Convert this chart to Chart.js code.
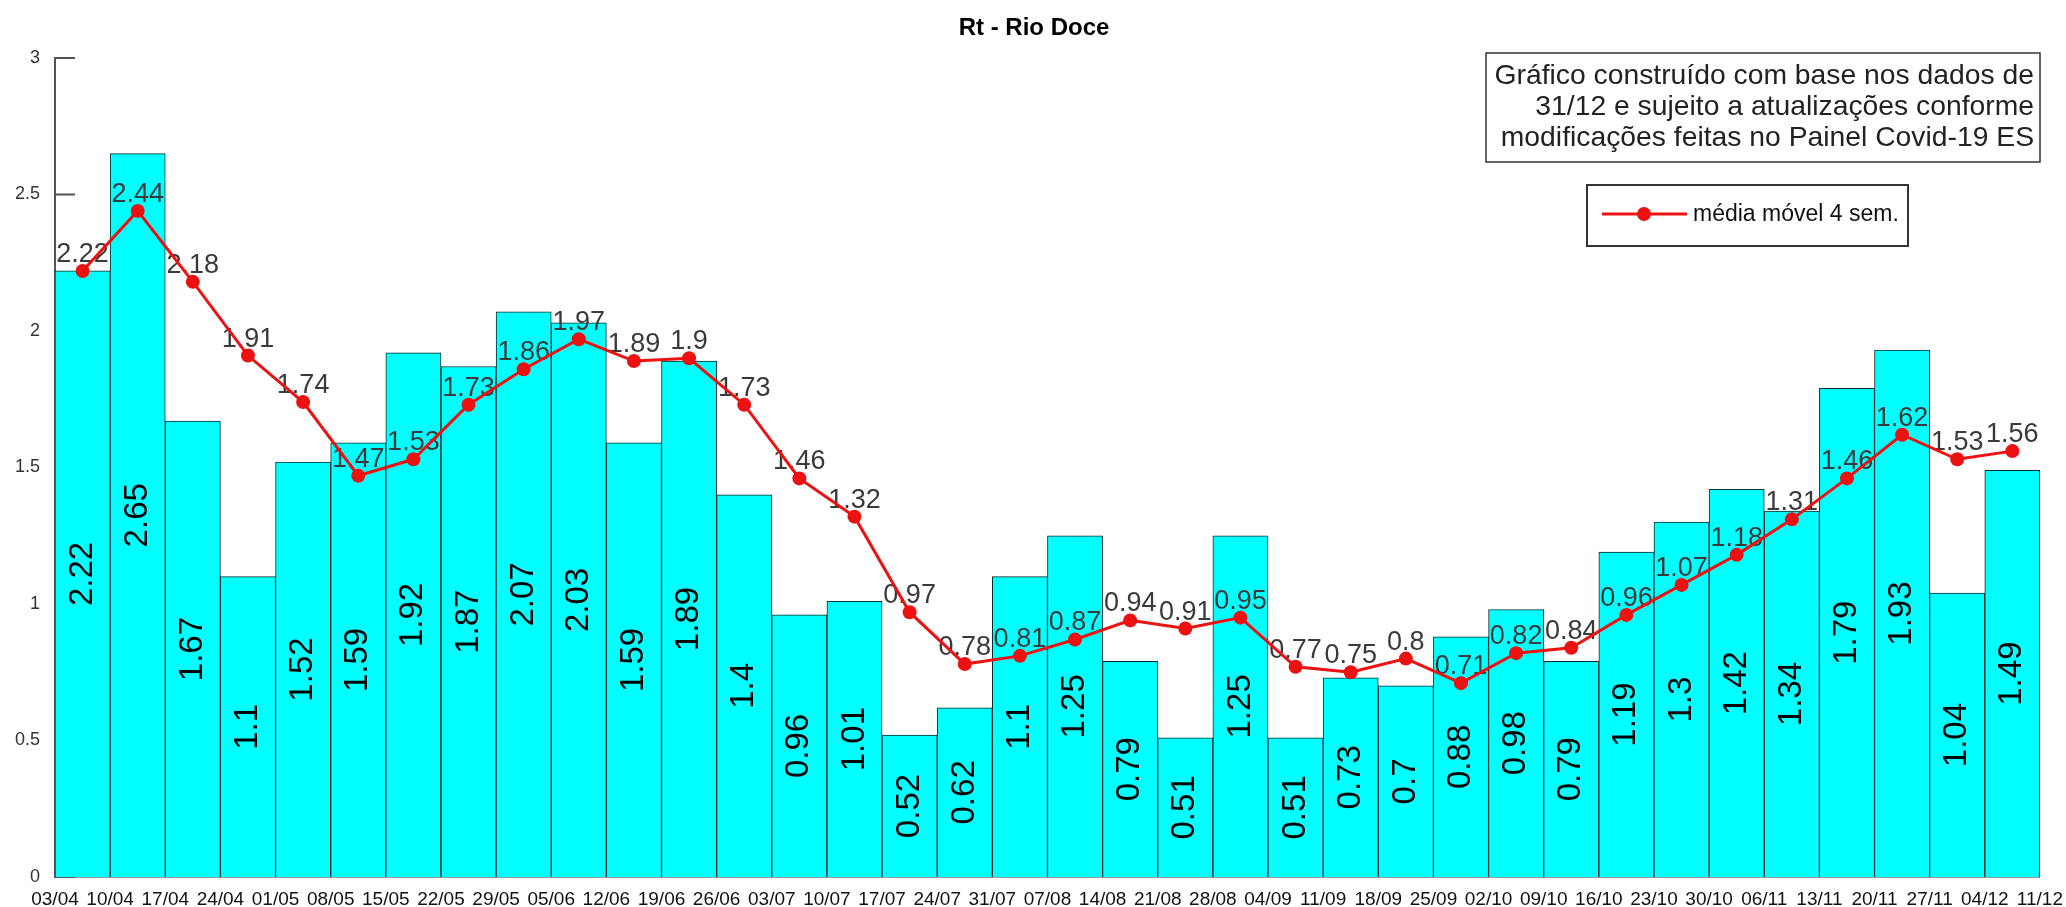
<!DOCTYPE html>
<html>
<head>
<meta charset="utf-8">
<script src="https://cdn.jsdelivr.net/npm/chart.js@4"></script>
<style>
  body { margin: 0; background: #fff; }
  #wrap { width: 2066px; height: 907px; }
</style>
</head>
<body>
<div id="wrap"><canvas id="rtChart" width="2066" height="907"></canvas></div>
<script>
// semanas (37 marcas, nas bordas das barras)
const semanas = ['03/04', '10/04', '17/04', '24/04', '01/05', '08/05', '15/05', '22/05', '29/05',
  '05/06', '12/06', '19/06', '26/06', '03/07', '10/07', '17/07', '24/07', '31/07', '07/08',
  '14/08', '21/08', '28/08', '04/09', '11/09', '18/09', '25/09', '02/10', '09/10', '16/10',
  '23/10', '30/10', '06/11', '13/11', '20/11', '27/11', '04/12', '11/12'];

const rtSemanal = [2.22, 2.65, 1.67, 1.1, 1.52, 1.59, 1.92, 1.87, 2.07, 2.03, 1.59, 1.89,
  1.4, 0.96, 1.01, 0.52, 0.62, 1.1, 1.25, 0.79, 0.51, 1.25, 0.51, 0.73, 0.7, 0.88, 0.98,
  0.79, 1.19, 1.3, 1.42, 1.34, 1.79, 1.93, 1.04, 1.49];

const mediaMovel = [2.22, 2.44, 2.18, 1.91, 1.74, 1.47, 1.53, 1.73, 1.86, 1.97, 1.89, 1.9,
  1.73, 1.46, 1.32, 0.97, 0.78, 0.81, 0.87, 0.94, 0.91, 0.95, 0.77, 0.75, 0.8, 0.71, 0.82,
  0.84, 0.96, 1.07, 1.18, 1.31, 1.46, 1.62, 1.53, 1.56];

const yMin = 0;
const yMax = 3;
const yPasso = 0.5;

const titulo = 'Rt - Rio Doce';
const notaLinhas = [
  'Gráfico construído com base nos dados de',
  '31/12 e sujeito a atualizações conforme',
  'modificações feitas no Painel Covid-19 ES'
];
const legendaTexto = 'média móvel 4 sem.';

const vermelho = '#ec1212';
const fonteEstreita = "'Liberation Sans Narrow', Arial";

const pluginTitulo = {
  id: 'titulo',
  afterDraw(chart) {
    const ctx = chart.ctx;
    ctx.save();
    ctx.font = 'bold 24px Arial';
    ctx.fillStyle = '#000';
    ctx.textAlign = 'center';
    ctx.textBaseline = 'middle';
    ctx.fillText(titulo, 1034, 28);
    ctx.restore();
  }
};

const pluginTicksInternos = {
  id: 'ticksInternos',
  beforeDatasetsDraw(chart) {
    const ctx = chart.ctx;
    const y = chart.scales.y;
    const left = chart.chartArea.left;
    ctx.save();
    ctx.strokeStyle = '#555';
    ctx.lineWidth = 2;
    y.ticks.forEach(t => {
      const py = y.getPixelForValue(t.value);
      ctx.beginPath();
      ctx.moveTo(left, py);
      ctx.lineTo(left + 20, py);
      ctx.stroke();
    });
    ctx.restore();
  }
};

const pluginRotulos = {
  id: 'rotulos',
  afterDatasetDraw(chart, args) {
    if (args.index !== 0) return;
    const ctx = chart.ctx;
    // valores das barras, na vertical
    const barras = chart.getDatasetMeta(0).data;
    ctx.save();
    ctx.font = '33px Arial';
    ctx.fillStyle = '#000';
    ctx.textAlign = 'center';
    ctx.textBaseline = 'middle';
    barras.forEach((b, i) => {
      const meio = (b.y + b.base) / 2;
      ctx.save();
      ctx.translate(b.x, meio);
      ctx.rotate(-Math.PI / 2);
      ctx.fillText(String(rtSemanal[i]), 0, 0);
      ctx.restore();
    });
    // valores da media movel (posicao dos pontos da linha)
    const pontos = chart.getDatasetMeta(1).data;
    ctx.font = '27px Arial';
    ctx.fillStyle = '#3a3a3a';
    ctx.textBaseline = 'alphabetic';
    pontos.forEach((p, i) => {
      ctx.fillText(String(mediaMovel[i]), p.x, p.y - 9);
    });
    ctx.restore();
  }
};

const pluginNota = {
  id: 'nota',
  afterDraw(chart) {
    const ctx = chart.ctx;
    ctx.save();
    // caixa de texto
    ctx.fillStyle = '#fff';
    ctx.fillRect(1486, 53, 554, 109);
    ctx.strokeStyle = '#333';
    ctx.lineWidth = 1.5;
    ctx.strokeRect(1486, 53, 554, 109);
    let tam = 26;
    ctx.font = tam + 'px Arial';
    const w = ctx.measureText(notaLinhas[0]).width;
    tam = tam * 540 / w;
    ctx.font = tam.toFixed(1) + 'px Arial';
    ctx.fillStyle = '#222';
    ctx.textAlign = 'right';
    ctx.textBaseline = 'middle';
    notaLinhas.forEach((l, i) => ctx.fillText(l, 2034, 76 + i * 31));

    // legenda
    ctx.fillStyle = '#fff';
    ctx.fillRect(1587, 185, 321, 61);
    ctx.strokeStyle = '#333';
    ctx.lineWidth = 2;
    ctx.strokeRect(1587, 185, 321, 61);
    ctx.strokeStyle = vermelho;
    ctx.lineWidth = 3;
    ctx.beginPath();
    ctx.moveTo(1602, 214);
    ctx.lineTo(1687, 214);
    ctx.stroke();
    ctx.fillStyle = vermelho;
    ctx.beginPath();
    ctx.arc(1644, 214, 7, 0, Math.PI * 2);
    ctx.fill();
    ctx.fillStyle = '#111';
    ctx.font = '23px ' + fonteEstreita;
    ctx.textAlign = 'left';
    ctx.textBaseline = 'middle';
    ctx.fillText(legendaTexto, 1693, 215);
    ctx.restore();
  }
};

const ctx = document.getElementById('rtChart').getContext('2d');

const rtChart = new Chart(ctx, {
  data: {
    labels: semanas.slice(0, rtSemanal.length),
    datasets: [
      {
        type: 'bar',
        label: 'Rt',
        data: rtSemanal,
        backgroundColor: '#00ffff',
        borderColor: '#0d2b2b',
        borderWidth: 1,
        barPercentage: 1,
        categoryPercentage: 1,
        order: 1
      },
      {
        type: 'line',
        label: legendaTexto,
        data: mediaMovel,
        borderColor: vermelho,
        borderWidth: 3,
        pointRadius: 7,
        pointBackgroundColor: vermelho,
        pointBorderWidth: 0,
        tension: 0,
        order: 0
      }
    ]
  },
  options: {
    responsive: false,
    animation: false,
    layout: { padding: { top: 58, right: 26, left: 0, bottom: 0 } },
    scales: {
      x: {
        display: false,
        offset: true
      },
      x2: {
        type: 'linear',
        position: 'bottom',
        min: 0,
        max: semanas.length - 1,
        afterFit: s => { s.height = 30; },
        grid: { display: false },
        border: { display: true, color: '#333', width: 1.5 },
        ticks: {
          stepSize: 1,
          maxTicksLimit: 60,
          autoSkip: false,
          maxRotation: 0,
          padding: 3,
          color: '#111',
          font: { family: fonteEstreita, size: 19 },
          callback: v => semanas[v]
        }
      },
      y: {
        min: yMin,
        max: yMax,
        afterFit: s => { s.width = 55; },
        grid: { display: false },
        border: { display: true, color: '#555', width: 2 },
        ticks: {
          stepSize: yPasso,
          padding: 7,
          color: '#333',
          font: { family: fonteEstreita, size: 18 },
          callback: v => String(v)
        }
      }
    },
    plugins: {
      legend: { display: false },
      tooltip: { enabled: false }
    }
  },
  plugins: [pluginTicksInternos, pluginRotulos, pluginTitulo, pluginNota]
});
</script>
</body>
</html>
